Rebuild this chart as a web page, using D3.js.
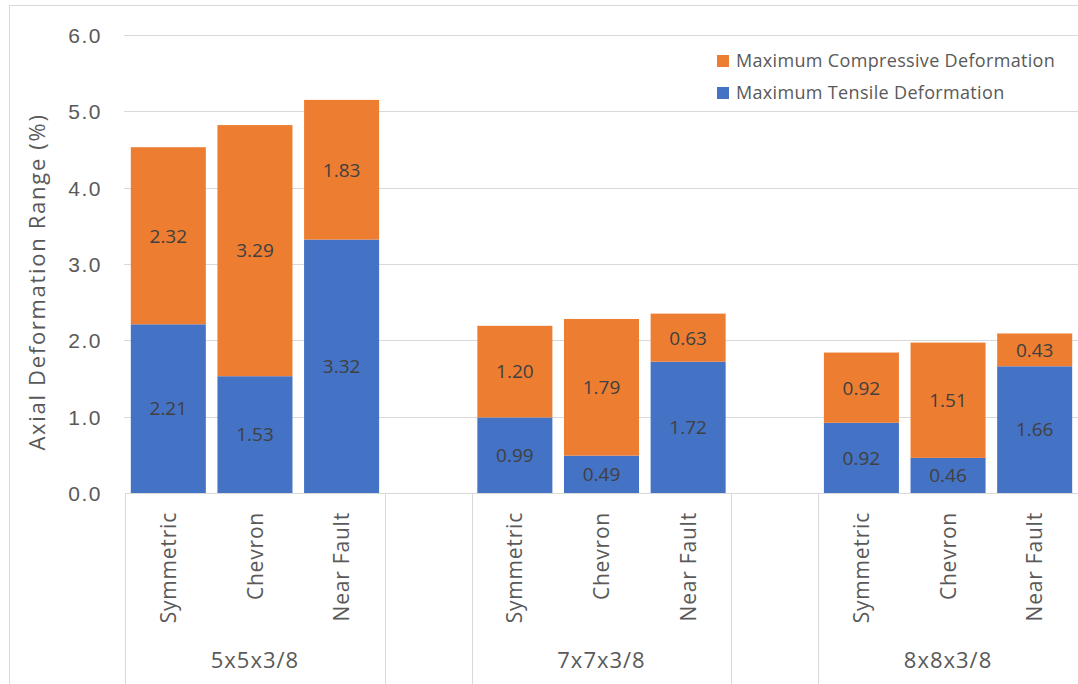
<!DOCTYPE html>
<html>
<head>
<meta charset="utf-8">
<script src="https://cdn.jsdelivr.net/npm/d3@7"></script>
<style>
  html, body { margin: 0; padding: 0; background: #fff; }
  svg { display: block; font-family: "Open Sans", "Noto Sans", sans-serif; }
</style>
</head>
<body>
<svg id="chart" width="1078" height="684"></svg>
<script>
// Section sizes (groups) and brace layouts (categories within each group)
const groups = ["5x5x3/8", "7x7x3/8", "8x8x3/8"];
const layouts = ["Symmetric", "Chevron", "Near Fault"];

// Stacked series, one value per (group, layout), in group order
const tensile     = [2.21, 1.53, 3.32, 0.99, 0.49, 1.72, 0.92, 0.46, 1.66];
const compressive = [2.32, 3.29, 1.83, 1.20, 1.79, 0.63, 0.92, 1.51, 0.43];

const seriesNames = ["Maximum Tensile Deformation", "Maximum Compressive Deformation"];
const yTicks = [0, 1, 2, 3, 4, 5, 6];
const yTitle = "Axial Deformation Range (%)";

const COLORS = { tensile: "#4472C4", compressive: "#ED7D31" };
const GRID = "#D9D9D9";
const TEXT = "#595959";
const LABEL = "#404040";

const svg = d3.select("#chart");

// Chart frame
svg.append("rect")
  .attr("x", 9.5).attr("y", 5.5)
  .attr("width", 1100).attr("height", 700)
  .attr("fill", "#fff").attr("stroke", GRID).attr("stroke-width", 1);

// Category slots: each group's layouts, with an empty slot between groups
const slots = [];
groups.forEach((g, gi) => {
  layouts.forEach((l, li) => slots.push({ key: g + "|" + l, group: g, layout: l, idx: gi * layouts.length + li }));
  if (gi < groups.length - 1) slots.push({ key: "gap" + gi, gap: true });
});

const x = d3.scaleBand()
  .domain(slots.map(s => s.key))
  .range([125, 1078])
  .paddingInner(0.134)
  .paddingOuter(0.067);

const y = d3.scaleLinear().domain([0, 6]).range([493, 35]);

// Horizontal gridlines
svg.append("g")
  .selectAll("line")
  .data(yTicks.filter(t => t > 0))
  .join("line")
  .attr("x1", 124).attr("x2", 1078)
  .attr("y1", d => Math.round(y(d)) + 0.5).attr("y2", d => Math.round(y(d)) + 0.5)
  .attr("stroke", GRID).attr("stroke-width", 1);

// Y axis tick labels
const yAxis = d3.axisLeft(y).tickValues(yTicks).tickFormat(d3.format(".1f")).tickSize(0).tickPadding(0);
const yg = svg.append("g").attr("transform", "translate(102,0)").call(yAxis);
yg.select(".domain").remove();
yg.selectAll("text")
  .attr("fill", TEXT)
  .style("font-size", "21px")
  .style("letter-spacing", "1.5px")
  .attr("dy", "0.36em");

// Y axis title
svg.append("text")
  .attr("transform", "translate(45,282) rotate(-90)")
  .attr("text-anchor", "middle")
  .attr("fill", TEXT)
  .style("font-size", "22px")
  .style("letter-spacing", "1.7px")
  .text(yTitle);

// Stacked bars
const rows = slots.filter(s => !s.gap).map(s => ({
  key: s.key,
  tensile: tensile[s.idx],
  compressive: compressive[s.idx]
}));
const stack = d3.stack().keys(["tensile", "compressive"]);
const stacked = stack(rows);

const barG = svg.append("g");
stacked.forEach(layer => {
  barG.append("g")
    .attr("fill", COLORS[layer.key])
    .selectAll("rect")
    .data(layer)
    .join("rect")
    .attr("x", d => x(d.data.key))
    .attr("width", x.bandwidth())
    .attr("y", d => y(d[1]))
    .attr("height", d => y(d[0]) - y(d[1]));

  barG.append("g")
    .selectAll("text")
    .data(layer)
    .join("text")
    .attr("x", d => x(d.data.key) + x.bandwidth() / 2)
    .attr("y", d => (y(d[0]) + y(d[1])) / 2)
    .attr("dy", "0.36em")
    .attr("text-anchor", "middle")
    .attr("fill", LABEL)
    .style("font-size", "19px")
    .text(d => d3.format(".2f")(d.data[layer.key]));
});

// Category axis line
svg.append("line")
  .attr("x1", 125).attr("x2", 1078)
  .attr("y1", 493.5).attr("y2", 493.5)
  .attr("stroke", GRID).attr("stroke-width", 1);

// Group separators on the multi-level category axis
const step = x.step();
const boundaries = [];
slots.forEach((s, i) => {
  const start = x(s.key) - x.paddingInner() * step / 2;
  const prev = slots[i - 1];
  if (i === 0 || (prev && (prev.gap !== s.gap))) boundaries.push(start);
});
svg.append("g")
  .selectAll("line")
  .data(boundaries)
  .join("line")
  .attr("x1", d => Math.round(d) + 0.5).attr("x2", d => Math.round(d) + 0.5)
  .attr("y1", 493).attr("y2", 684)
  .attr("stroke", GRID).attr("stroke-width", 1);

// Layout labels (rotated)
svg.append("g")
  .selectAll("text")
  .data(slots.filter(s => !s.gap))
  .join("text")
  .attr("transform", d => `translate(${x(d.key) + x.bandwidth() / 2},512) rotate(-90)`)
  .attr("dy", "0.36em")
  .attr("text-anchor", "end")
  .attr("fill", TEXT)
  .style("font-size", "21px")
  .style("letter-spacing", "0.8px")
  .text(d => d.layout);

// Group labels
svg.append("g")
  .selectAll("text")
  .data(groups)
  .join("text")
  .attr("x", g => x(g + "|" + layouts[1]) + x.bandwidth() / 2)
  .attr("y", 660)
  .attr("dy", "0.36em")
  .attr("text-anchor", "middle")
  .attr("fill", TEXT)
  .style("font-size", "22px")
  .style("letter-spacing", "1px")
  .text(g => g);

// Legend (compressive listed first, as stacked top to bottom)
const legendItems = [
  { name: seriesNames[1], color: COLORS.compressive },
  { name: seriesNames[0], color: COLORS.tensile }
];
const lg = svg.append("g")
  .selectAll("g")
  .data(legendItems)
  .join("g")
  .attr("transform", (d, i) => `translate(717,${61 + i * 32})`);
lg.append("rect")
  .attr("x", 0).attr("y", -6).attr("width", 12).attr("height", 12)
  .attr("fill", d => d.color);
lg.append("text")
  .attr("x", 19).attr("dy", "0.36em")
  .attr("fill", TEXT)
  .style("font-size", "18px")
  .style("letter-spacing", "0.33px")
  .text(d => d.name);
</script>
</body>
</html>
